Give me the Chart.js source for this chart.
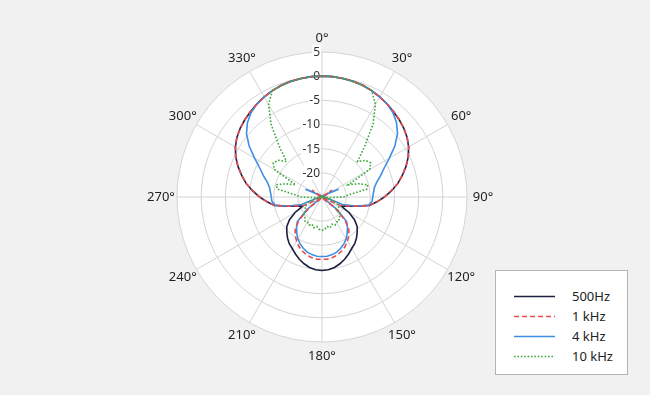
<!DOCTYPE html>
<html>
<head>
<meta charset="utf-8">
<script src="https://cdn.jsdelivr.net/npm/chart.js@4.4.1/dist/chart.umd.min.js"></script>
<style>
  html, body { margin: 0; padding: 0; background: #f1f1f1; }
  #wrap { position: relative; width: 650px; height: 395px; }
  #polar { position: absolute; left: 0; top: 0; }
  #legend { position: absolute; left: 495px; top: 270px; width: 131px; height: 103px;
            background: #fff; border: 1px solid #b4b4b4; font: 13px 'Noto Sans', sans-serif; color: #222; }
  .row { position: absolute; left: 0; width: 100%; height: 20px; }
  .row svg { position: absolute; left: 18px; top: 0; }
  .row span { position: absolute; left: 76px; top: 0; line-height: 20px; }
</style>
</head>
<body>
<div id="wrap">
  <canvas id="polar" width="650" height="395"></canvas>
  <div id="legend"></div>
</div>
<script>
// angle of each sample, degrees clockwise from the front (0°)
const angles = [0, 5, 10, 15, 20, 25, 30, 35, 40, 45, 50, 55, 60, 65, 70, 75, 80, 85,
  90, 95, 100, 105, 110, 115, 120, 125, 130, 135, 140, 145, 150, 155, 160, 165, 170, 175,
  180, 185, 190, 195, 200, 205, 210, 215, 220, 225, 230, 235, 240, 245, 250, 255, 260, 265,
  270, 275, 280, 285, 290, 295, 300, 305, 310, 315, 320, 325, 330, 335, 340, 345, 350, 355];

// relative level in dB
const d500 = [0, 0, -0.1, -0.2, -0.4, -0.7, -1.1, -1.5, -2.0, -2.4, -2.9, -3.5, -4.3, -5.3, -6.5, -7.8, -9.1, -10.6,
  -12.1, -13.6, -15.0, -17.6, -19.5, -20.6, -18.5, -16.8, -15.5, -14.7, -13.9, -13.2, -12.7, -12.0, -11.3, -10.7, -10.2, -9.9,
  -9.8, -9.9, -10.2, -10.7, -11.3, -12.0, -12.7, -13.2, -13.9, -14.7, -15.5, -16.8, -18.5, -20.6, -19.5, -17.6, -15.0, -13.6,
  -12.1, -10.6, -9.1, -7.8, -6.5, -5.3, -4.3, -3.5, -2.9, -2.4, -2.0, -1.5, -1.1, -0.7, -0.4, -0.2, -0.1, 0];

const d1k = [0, 0, -0.1, -0.2, -0.4, -0.7, -1.1, -1.5, -1.9, -2.4, -2.9, -3.5, -4.3, -5.3, -6.5, -7.8, -9.1, -10.7,
  -12.1, -13.6, -15.0, -17.6, -19.6, -21.0, -24.5, -27.5, -21.5, -18.3, -16.4, -15.3, -14.5, -13.7, -13.1, -12.6, -12.3, -12.1,
  -12.1, -12.1, -12.3, -12.6, -13.1, -13.7, -14.5, -15.3, -16.4, -18.3, -21.5, -27.5, -24.5, -21.0, -19.6, -17.6, -15.0, -13.6,
  -12.1, -10.7, -9.1, -7.8, -6.5, -5.3, -4.3, -3.5, -2.9, -2.4, -1.9, -1.5, -1.1, -0.7, -0.4, -0.2, -0.1, 0];

const d4k = [0, 0, -0.1, -0.2, -0.4, -0.7, -1.1, -1.5, -2.2, -3.2, -4.6, -6.6, -8.9, -10.8, -12.1, -13.3, -14.0, -14.3,
  -14.5, -14.6, -15.2, -17.8, -20.5, -28.8, -27.0, -25.0, -21.0, -17.8, -16.8, -15.9, -15.0, -14.3, -13.7, -13.2, -12.9, -12.7,
  -12.7, -12.7, -12.9, -13.2, -13.7, -14.3, -15.0, -15.9, -16.8, -17.8, -21.0, -25.0, -27.0, -28.8, -20.5, -17.8, -15.2, -14.6,
  -14.5, -14.3, -14.0, -13.3, -12.1, -10.8, -8.9, -6.6, -4.6, -3.2, -2.2, -1.5, -1.1, -0.7, -0.4, -0.2, -0.1, 0];

const d10k = [0, 0, -0.1, -0.3, -0.5, -0.7, -2.9, -6.6, -11.2, -14.6, -13.2, -12.7, -13.6, -19.0, -17.0, -15.2, -15.6, -19.3,
  -20.5, -23.5, -25.5, -23.5, -22.0, -21.5, -21.0, -20.8, -20.6, -19.6, -19.5, -18.9, -19.0, -18.6, -19.0, -18.4, -18.8, -18.3,
  -18.1, -18.3, -18.8, -18.4, -19.0, -18.6, -19.0, -18.9, -19.5, -19.6, -20.6, -20.8, -21.0, -21.5, -22.0, -23.5, -25.5, -23.5,
  -20.5, -19.3, -15.6, -15.2, -17.0, -19.0, -13.6, -12.7, -13.2, -14.6, -11.2, -6.6, -2.9, -0.7, -0.5, -0.3, -0.1, 0];

const ringLabels = [5, 0, -5, -10, -15, -20];

const FONT = "'Noto Sans', sans-serif";

// level labels sit just left of the 0° axis, over a white patch
const ringText = {
  id: 'ringText',
  beforeDatasetsDraw(chart) {
    const r = chart.scales.r;
    const ctx = chart.ctx;
    ctx.save();
    ctx.font = '12px ' + FONT;
    ctx.textAlign = 'right';
    ctx.textBaseline = 'middle';
    ringLabels.forEach(v => {
      const y = r.yCenter - r.getDistanceFromCenterForValue(v);
      const txt = String(v);
      const w = ctx.measureText(txt).width;
      ctx.fillStyle = '#ffffff';
      ctx.fillRect(r.xCenter - 2 - w - 1, y - 7, w + 2, 14);
      ctx.fillStyle = '#333333';
      ctx.fillText(txt, r.xCenter - 2, y + 0.5);
    });
    ctx.restore();
  }
};

// angle labels every 30°, centred on a ring just outside the plot
const angleText = {
  id: 'angleText',
  afterDraw(chart) {
    const r = chart.scales.r;
    const ctx = chart.ctx;
    ctx.save();
    ctx.font = '13px ' + FONT;
    ctx.fillStyle = '#222222';
    ctx.textAlign = 'center';
    ctx.textBaseline = 'middle';
    chart.data.labels.forEach((a, i) => {
      if (a % 30 !== 0) return;
      const extra = 2 * Math.abs(Math.sin(a * Math.PI / 180));
      const p = r.getPointPosition(i, r.drawingArea + 14 + extra);
      ctx.fillText(a + '°', p.x, p.y);
    });
    ctx.restore();
  }
};

const lineBase = { pointRadius: 0, pointHoverRadius: 0, fill: false, tension: 0 };

const chart = new Chart(document.getElementById('polar'), {
  type: 'radar',
  data: {
    labels: angles,
    datasets: [
      Object.assign({ label: '500Hz', data: d500, borderColor: '#1c2142', borderWidth: 1.6, order: 3 }, lineBase),
      Object.assign({ label: '1 kHz', data: d1k, borderColor: '#e84a4f', borderWidth: 1.6, borderDash: [5, 3], order: 1 }, lineBase),
      Object.assign({ label: '4 kHz', data: d4k, borderColor: '#3d8fe3', borderWidth: 1.6, order: 2 }, lineBase),
      Object.assign({ label: '10 kHz', data: d10k, borderColor: '#3aa83a', borderWidth: 1.6, borderDash: [1.6, 1.8], order: 0 }, lineBase)
    ]
  },
  options: {
    responsive: false,
    animation: false,
    layout: { padding: { left: 102, right: 108, top: 52, bottom: 53 } },
    plugins: { legend: { display: false }, tooltip: { enabled: false } },
    scales: {
      r: {
        min: -25,
        max: 5,
        backgroundColor: '#ffffff',
        ticks: { display: false, stepSize: 5 },
        grid: { color: '#d4d4d4', lineWidth: 1, circular: true },
        angleLines: { color: '#d4d4d4', lineWidth: c => (c.index % 6 === 0 ? 1 : 0) },
        pointLabels: { display: false }
      }
    }
  },
  plugins: [ringText, angleText]
});

// legend box
const legend = document.getElementById('legend');
chart.data.datasets.forEach((ds, i) => {
  const row = document.createElement('div');
  row.className = 'row';
  row.style.top = (15 + i * 20) + 'px';
  const dash = ds.borderDash ? ds.borderDash.join(' ') : 'none';
  row.innerHTML = '<svg width="42" height="20"><line x1="0" y1="10.5" x2="41" y2="10.5" stroke="' + ds.borderColor +
    '" stroke-width="' + ds.borderWidth + '" stroke-dasharray="' + dash + '"/></svg><span>' + ds.label + '</span>';
  legend.appendChild(row);
});
</script>
</body>
</html>
